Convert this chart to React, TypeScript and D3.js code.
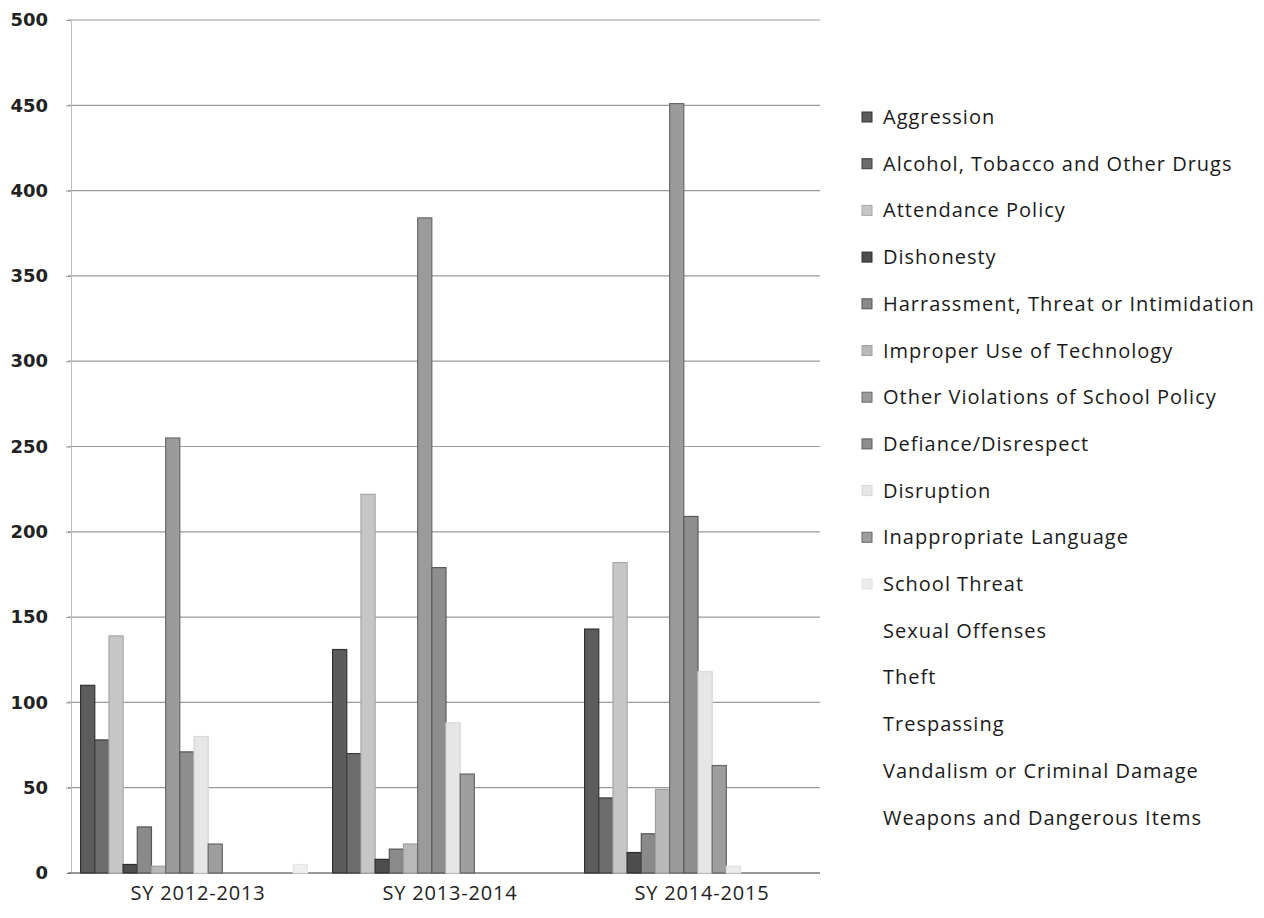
import { useEffect, useMemo, useRef } from 'react';
import * as d3 from 'd3';

const WIDTH = 1264;
const HEIGHT = 918;
const MARGIN = { top: 20, right: 440, bottom: 45, left: 68 };

// school years on the x axis
const years = ['SY 2012-2013', 'SY 2013-2014', 'SY 2014-2015'];

// incident categories (legend order = bar order)
const categories = [
  'Aggression',
  'Alcohol, Tobacco and Other Drugs',
  'Attendance Policy',
  'Dishonesty',
  'Harrassment, Threat or Intimidation',
  'Improper Use of Technology',
  'Other Violations of School Policy',
  'Defiance/Disrespect',
  'Disruption',
  'Inappropriate Language',
  'School Threat',
  'Sexual Offenses',
  'Theft',
  'Trespassing',
  'Vandalism or Criminal Damage',
  'Weapons and Dangerous Items',
];

// counts per year, one value per category
const sy2012 = [110, 78, 139, 5, 27, 4, 255, 71, 80, 17, 0, 0, 0, 0, 0, 5];
const sy2013 = [131, 70, 222, 8, 14, 17, 384, 179, 88, 58, 0, 0, 0, 0, 0, 0];
const sy2014 = [143, 44, 182, 12, 23, 49, 451, 209, 118, 63, 4, 0, 0, 0, 0, 0];

const yTicks = [0, 50, 100, 150, 200, 250, 300, 350, 400, 450, 500];

// scanned greys
const fills = [
  '#5c5c5c', '#6c6c6c', '#c6c6c6', '#4e4e4e', '#8a8a8a', '#b9b9b9', '#9b9b9b', '#8e8e8e',
  '#e6e6e6', '#9e9e9e', '#ececec', '#f3f3f3', '#f3f3f3', '#f3f3f3', '#f3f3f3', '#f0f0f0',
];
const strokes = [
  '#333', '#3c3c3c', '#a8a8a8', '#2c2c2c', '#555', '#a0a0a0', '#6a6a6a', '#5a5a5a',
  '#d8d8d8', '#666', '#e0e0e0', '#eee', '#eee', '#eee', '#eee', '#e6e6e6',
];

const FONT = "'Open Sans', 'DejaVu Sans', sans-serif";

export default function App() {
  const axesRef = useRef<SVGGElement>(null);

  const boundsWidth = WIDTH - MARGIN.left - MARGIN.right;
  const boundsHeight = HEIGHT - MARGIN.top - MARGIN.bottom;

  const rows = useMemo(() => [sy2012, sy2013, sy2014], []);

  const x0 = useMemo(
    () => d3.scaleBand().domain(years).range([0, boundsWidth]).paddingInner(0.1).paddingOuter(0.05),
    [boundsWidth]
  );
  const x1 = useMemo(
    () => d3.scaleBand().domain(categories).range([0, x0.bandwidth()]).padding(0),
    [x0]
  );
  const y = useMemo(
    () => d3.scaleLinear().domain([0, 500]).range([boundsHeight, 0]),
    [boundsHeight]
  );

  // gridlines, axis lines and labels
  useEffect(() => {
    const g = d3.select(axesRef.current);
    g.selectAll('*').remove();

    const grid = g.append('g');
    grid
      .selectAll('line')
      .data(yTicks.filter((t) => t > 0))
      .join('line')
      .attr('x1', 0)
      .attr('x2', boundsWidth - 4)
      .attr('y1', (d) => y(d))
      .attr('y2', (d) => y(d))
      .attr('stroke', '#9a9a9a')
      .attr('stroke-width', 1.2);

    // left axis
    const yAxis = d3.axisLeft(y).tickValues(yTicks).tickSize(5).tickPadding(18);
    const ya = g.append('g').attr('transform', 'translate(3,0)').call(yAxis);
    ya.select('.domain').attr('stroke', '#bbb');
    ya.selectAll('.tick line').attr('stroke', '#999');
    ya.selectAll('text')
      .style('font-family', "'DejaVu Sans', sans-serif")
      .style('font-size', '18px')
      .style('font-weight', '600')
      .attr('fill', '#222');

    // baseline
    g.append('line')
      .attr('x1', 0)
      .attr('x2', boundsWidth - 4)
      .attr('y1', y(0))
      .attr('y2', y(0))
      .attr('stroke', '#777')
      .attr('stroke-width', 1.5);

    // category labels
    g.append('g')
      .selectAll('text')
      .data(years)
      .join('text')
      .attr('x', (d) => (x0(d) ?? 0) + x0.bandwidth() / 2 + 4)
      .attr('y', boundsHeight + 27)
      .attr('text-anchor', 'middle')
      .style('font-family', FONT)
      .style('font-size', '20px')
      .style('letter-spacing', '0.8px')
      .attr('fill', '#222')
      .text((d) => d);
  }, [x0, y, boundsWidth, boundsHeight]);

  const legendX = 862;
  const legendY0 = 117;
  const legendStep = 46.7;

  return (
    <div style={{ position: 'absolute', left: 0, top: 0 }}>
      <svg width={WIDTH} height={HEIGHT} style={{ background: '#fff', display: 'block' }}>
        <g transform={`translate(${MARGIN.left}, ${MARGIN.top})`}>
          <g ref={axesRef} />
          {/* Barras */}
          {rows.map((vals, yi) => (
            <g key={years[yi]} transform={`translate(${x0(years[yi])}, 0)`}>
              {vals.map((v, ci) =>
                v > 0 ? (
                  <rect
                    key={categories[ci]}
                    x={x1(categories[ci])}
                    y={y(v)}
                    width={x1.bandwidth()}
                    height={y(0) - y(v)}
                    fill={fills[ci]}
                    stroke={strokes[ci]}
                    strokeWidth={1.2}
                  />
                ) : null
              )}
            </g>
          ))}
        </g>

        {/* Legenda */}
        <g>
          {categories.map((c, i) => (
            <g key={c} transform={`translate(${legendX}, ${legendY0 + i * legendStep})`}>
              {i < 11 && (
                <rect
                  x={0}
                  y={-5}
                  width={10}
                  height={10}
                  fill={fills[i]}
                  stroke={strokes[i]}
                  strokeWidth={1}
                />
              )}
              <text
                x={21}
                y={0}
                dy="0.35em"
                style={{ fontFamily: FONT, fontSize: '20px', letterSpacing: '1px' }}
                fill="#1a1a1a"
              >
                {c}
              </text>
            </g>
          ))}
        </g>
      </svg>
    </div>
  );
}
